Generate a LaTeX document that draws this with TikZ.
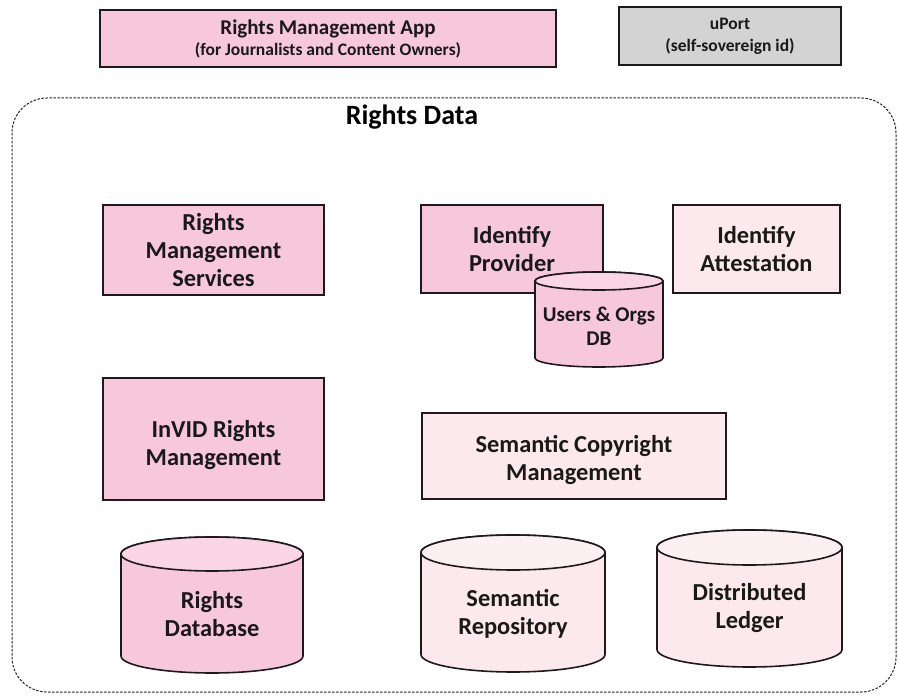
\documentclass[tikz,border=0pt]{standalone}
\usepackage{fontspec}
\setmainfont{Carlito}
\definecolor{pinkA}{RGB}{247,199,218}
\definecolor{pinkAtop}{RGB}{250,214,228}
\definecolor{pinkB}{RGB}{252,233,237}
\definecolor{pinkBtop}{RGB}{253,240,243}
\definecolor{grayA}{RGB}{211,211,211}
\definecolor{edge}{RGB}{30,25,30}
\tikzset{
  box/.style={draw=edge, line width=1.6pt, align=center, font=\bfseries\fontsize{24.4}{28}\selectfont, inner sep=0pt, text=black!90},
  lbl/.style={align=center, font=\bfseries\fontsize{24.4}{28}\selectfont, inner sep=0pt, text=black!90},
  cylline/.style={draw=edge, line width=1.6pt},
}
% cylinder: #1 cx, #2 top-ellipse centre y, #3 bottom-ellipse centre y, #4 rx, #5 ry, #6 body fill, #7 top fill
\newcommand\dbcyl[7]{%
  \filldraw[cylline, fill=#6] ({#1-#4},#2) -- ({#1-#4},#3)
     arc[start angle=180, end angle=360, x radius=#4pt, y radius=#5pt]
     -- ({#1+#4},#2)
     arc[start angle=0, end angle=180, x radius=#4pt, y radius=#5pt] -- cycle;
  \filldraw[cylline, fill=#7] (#1,#2) ellipse[x radius=#4pt, y radius=#5pt];
}
\begin{document}
\begin{tikzpicture}[x=1pt,y=-1pt]
\useasboundingbox (0,0) rectangle (898,700);
% outer dashed frame
\draw[draw=black!85, line width=1pt, dash pattern=on 2.5pt off 1.5pt, rounded corners=35pt] (12,98) rectangle (896,692);
\node[font=\bfseries\fontsize{28}{32}\selectfont, inner sep=0pt] (title) at (412,117) {Rights Data};

\node[box, fill=pinkA, minimum width=456pt, minimum height=57pt, font=\bfseries\fontsize{21}{21}\selectfont] (app) at (328,38.5)
  {Rights Management App\\{\fontsize{17.5}{21}\selectfont(for Journalists and Content Owners)}};
\node[box, fill=grayA, minimum width=222pt, minimum height=58pt, font=\bfseries\fontsize{17.5}{22}\selectfont] (uport) at (730,36)
  {uPort\\(self-sovereign id)};

\node[box, fill=pinkA, minimum width=221pt, minimum height=90pt] (rms) at (213.5,250) {Rights\\Management\\Services};
\node[box, fill=pinkA, minimum width=182pt, minimum height=88pt] (idp) at (512,249) {Identify\\Provider};
\node[box, fill=pinkB, minimum width=167pt, minimum height=88pt] (ida) at (756.5,249) {Identify\\Attestation};

\dbcyl{599}{281}{358}{64}{9}{pinkA}{pinkAtop}
\node[lbl, font=\bfseries\fontsize{21}{23.5}\selectfont] (udb) at (599,326.5) {Users \& Orgs\\DB};

\node[box, fill=pinkA, minimum width=221pt, minimum height=122pt] (invid) at (213.5,439) {};
\node[lbl] (invidlbl) at (213.5,445.5) {InVID Rights\\Management};
\node[box, fill=pinkB, minimum width=304pt, minimum height=86pt] (scm) at (574,456) {};
\node[lbl] (scmlbl) at (574,460) {Semantic Copyright\\Management};

\dbcyl{212}{554}{656}{91}{17}{pinkA}{pinkAtop}
\node[lbl] (rdb) at (212,614) {Rights\\Database};
\dbcyl{513}{552.5}{654.5}{92}{17.5}{pinkB}{pinkBtop}
\node[lbl] (srep) at (513,614) {Semantic\\Repository};
\dbcyl{749.5}{547.5}{649.5}{92.5}{17.5}{pinkB}{pinkBtop}
\node[lbl] (dl) at (749.5,608.5) {Distributed\\Ledger};
\end{tikzpicture}
\end{document}
